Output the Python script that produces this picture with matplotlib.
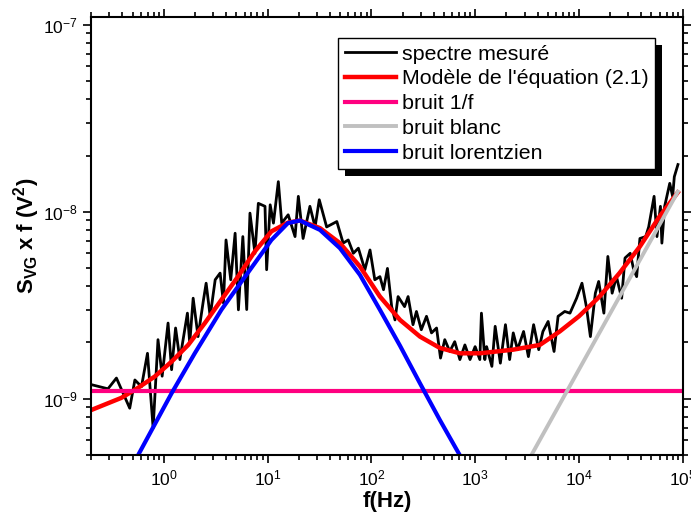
import matplotlib

matplotlib.use("Agg")
import matplotlib.pyplot as plt
from matplotlib.patches import Rectangle

plt.rcParams["font.family"] = ["Liberation Sans", "DejaVu Sans"]
plt.rcParams["mathtext.fontset"] = "custom"
plt.rcParams["mathtext.rm"] = "Liberation Sans"
plt.rcParams["mathtext.it"] = "Liberation Sans:italic"
plt.rcParams["mathtext.bf"] = "Liberation Sans:bold"

f_meas = [0.2, 0.29, 0.35, 0.47, 0.527, 0.61, 0.697, 0.79, 0.88, 0.965,
          1.10, 1.19, 1.30, 1.43, 1.69, 1.78, 1.92, 2.14, 2.4, 2.56,
          2.8, 3.13, 3.49, 3.76, 3.98, 4.42, 4.87, 5.24, 5.78, 6.3,
          6.77, 7.56, 8.15, 9.45, 9.8, 10.6, 11.4, 12.7, 13.7, 15.8,
          18.4, 19.8, 22.0, 25.6, 28.7, 31.5, 37.1, 46.5, 53.5, 59.9,
          67.1, 75.0, 86.6, 97.1, 108, 121, 131, 143, 157, 169,
          181, 209, 226, 252, 272, 303, 340, 380, 425, 464,
          510, 570, 636, 713, 797, 893, 1000, 1110, 1150, 1240,
          1290, 1450, 1560, 1750, 1960, 2150, 2330, 2560, 2930, 3260,
          3660, 4100, 4500, 5050, 5760, 6300, 7300, 8200, 9500, 10700,
          11800, 12900, 14400, 15500, 17400, 19000, 20900, 23000, 25800, 27800,
          31200, 33700, 36000, 38700, 44000, 47000, 53000, 56500, 61000, 63000,
          67000, 75000, 80000, 83000, 90000]
s_meas = [1.19e-9, 1.13e-9, 1.29e-9, 8.9e-10, 1.26e-9, 1.16e-9, 1.75e-9, 6.97e-10, 2.07e-9, 1.32e-9,
          2.54e-9, 1.43e-9, 2.39e-9, 1.62e-9, 2.87e-9, 1.98e-9, 3.45e-9, 2.15e-9, 3.31e-9, 4.15e-9,
          2.76e-9, 4.33e-9, 4.7e-9, 3.25e-9, 7.07e-9, 4.33e-9, 7.68e-9, 2.99e-9, 7.37e-9, 3.0e-9,
          9.84e-9, 6.0e-9, 1.11e-8, 1.07e-8, 4.9e-9, 1.09e-8, 8.7e-9, 1.45e-8, 8.7e-9, 9.64e-9,
          7.37e-9, 1.21e-8, 7.2e-9, 1.07e-8, 8.3e-9, 1.16e-8, 8.3e-9, 8.87e-9, 6.8e-9, 7.07e-9,
          6.0e-9, 6.39e-9, 4.9e-9, 6.25e-9, 4.33e-9, 4.5e-9, 3.83e-9, 4.98e-9, 3.11e-9, 2.64e-9,
          3.52e-9, 3.11e-9, 3.52e-9, 2.49e-9, 2.93e-9, 2.34e-9, 2.76e-9, 2.25e-9, 2.39e-9, 1.65e-9,
          2.07e-9, 1.79e-9, 2.02e-9, 1.62e-9, 1.94e-9, 1.62e-9, 1.9e-9, 1.62e-9, 2.87e-9, 1.62e-9,
          1.9e-9, 1.49e-9, 2.44e-9, 1.55e-9, 2.49e-9, 1.62e-9, 2.25e-9, 1.83e-9, 2.29e-9, 1.68e-9,
          2.49e-9, 1.83e-9, 2.29e-9, 2.59e-9, 1.79e-9, 2.76e-9, 2.93e-9, 2.87e-9, 3.45e-9, 4.15e-9,
          3.11e-9, 2.15e-9, 3.67e-9, 4.24e-9, 2.87e-9, 5.77e-9, 3.67e-9, 4.5e-9, 3.45e-9, 5.66e-9,
          6.0e-9, 4.9e-9, 4.5e-9, 7.2e-9, 7.37e-9, 8.3e-9, 1.21e-8, 7.37e-9, 1.07e-8, 6.8e-9,
          1.07e-8, 1.42e-8, 1.21e-8, 1.54e-8, 1.79e-8]

# model of equation (2.1)
f_model = [0.2, 0.389, 0.567, 0.82, 1.19, 1.72, 2.49, 3.59, 5.2, 7.53,
           10.9, 15.7, 20.5, 32, 49.8, 77.6, 121, 189, 294, 457,
           713, 1110, 2320, 4200, 6530, 10000, 15800, 24600, 38500, 59900, 89700]
s_model = [8.7e-10, 1.01e-9, 1.145e-9, 1.315e-9, 1.58e-9, 1.94e-9, 2.54e-9, 3.38e-9, 4.51e-9, 6.13e-9,
           7.86e-9, 8.75e-9, 8.98e-9, 8.18e-9, 6.8e-9, 5.1e-9, 3.52e-9, 2.64e-9, 2.15e-9, 1.87e-9,
           1.75e-9, 1.75e-9, 1.83e-9, 1.94e-9, 2.29e-9, 2.76e-9, 3.52e-9, 4.7e-9, 6.5e-9, 9.45e-9, 1.27e-8]

# 1/f noise (flat in S x f)
f_1f = [0.2, 94000]
s_1f = [1.1e-9, 1.1e-9]

# white noise
f_white = [3000, 89700]
s_white = [4.3e-10, 1.28e-8]

# lorentzian noise
f_lor = [0.567, 1.19, 1.99, 3.59, 5.2, 7.53, 10.9, 15.7, 20.5, 32,
         49.8, 77.6, 121, 189, 294, 457, 740]
s_lor = [5e-10, 1.07e-9, 1.75e-9, 2.99e-9, 3.99e-9, 5.31e-9, 7.07e-9, 8.7e-9, 8.98e-9, 8.0e-9,
         6.39e-9, 4.6e-9, 2.99e-9, 1.92e-9, 1.21e-9, 7.7e-10, 4.8e-10]

fig = plt.figure(figsize=(6.91, 5.2), dpi=100)
fig.subplots_adjust(left=0.132, right=0.988, bottom=0.125, top=0.967)
ax = fig.add_subplot(111)

ax.plot(f_meas, s_meas, color="black", lw=2.0, label="spectre mesuré")
ax.plot(f_model, s_model, color="#ff0000", lw=3.2, label="Modèle de l'équation (2.1)")
ax.plot(f_1f, s_1f, color="#ff0080", lw=3.0, label="bruit 1/f")
ax.plot(f_white, s_white, color="#c0c0c0", lw=2.8, label="bruit blanc")
ax.plot(f_lor, s_lor, color="#0000ff", lw=3.0, label="bruit lorentzien")

ax.set_xscale("log")
ax.set_yscale("log")
ax.set_xlim(0.2, 1e5)
ax.set_ylim(5e-10, 1.1e-7)

for side in ax.spines.values():
    side.set_linewidth(1.5)
ax.tick_params(which="both", direction="out", top=True, right=True, width=1.2)
ax.tick_params(which="major", length=6, labelsize=12.5)
ax.tick_params(which="minor", length=3.5)

ax.set_xlabel("f(Hz)", fontsize=16, fontweight="bold", labelpad=2)
ax.set_ylabel(r"$\mathbf{S_{VG}\ x\ f\ (V^2)}$", fontsize=16, labelpad=1)

leg = ax.legend(loc="upper right", bbox_to_anchor=(0.954, 0.952), borderaxespad=0,
                fontsize=15.4, frameon=True, fancybox=False, framealpha=1,
                edgecolor="black", handlelength=2.4, handletextpad=0.3,
                labelspacing=0.27, borderpad=0.3)
leg.get_frame().set_linewidth(1.0)
leg.set_zorder(5)

# solid black drop shadow behind the legend box
fig.canvas.draw()
bb = leg.get_window_extent().transformed(ax.transAxes.inverted())
dx = 7 / (ax.bbox.width)
dy = 7 / (ax.bbox.height)
ax.add_patch(Rectangle((bb.x0 + dx, bb.y0 - dy), bb.width, bb.height,
                       transform=ax.transAxes, facecolor="black", edgecolor="none",
                       clip_on=False, zorder=4.9))

fig.savefig("out.png", dpi=100)
plt.close(fig)
